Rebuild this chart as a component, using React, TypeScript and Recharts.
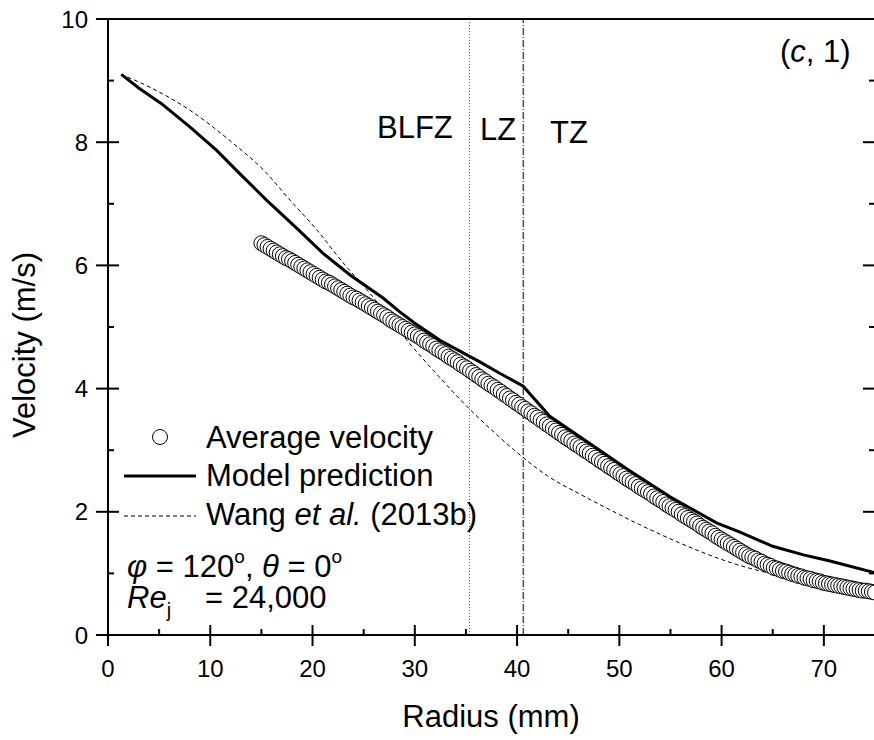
import React from "react";
import {
  ComposedChart,
  Line,
  ReferenceLine,
  Scatter,
  XAxis,
  YAxis,
} from "recharts";

const FONT = "'Liberation Sans', Arial, Helvetica, sans-serif";

// measured average velocity (open circles), one row per ~5 mm
const avgRadius = [
  15, 15.3, 15.6, 15.9, 16.2, 16.5, 16.8, 17.1, 17.4, 17.7, 18, 18.3, 18.6, 18.9, 19.2, 19.5, 19.8,
  20.1, 20.4, 20.7, 21, 21.3, 21.6, 21.9, 22.2, 22.5, 22.8, 23.1, 23.4, 23.7, 24, 24.3, 24.6, 24.9,
  25.2, 25.5, 25.8, 26.1, 26.4, 26.7, 27, 27.3, 27.6, 27.9, 28.2, 28.5, 28.8, 29.1, 29.4, 29.7,
  30, 30.3, 30.6, 30.9, 31.2, 31.5, 31.8, 32.1, 32.4, 32.7, 33, 33.3, 33.6, 33.9, 34.2, 34.5, 34.8,
  35.1, 35.4, 35.7, 36, 36.3, 36.6, 36.9, 37.2, 37.5, 37.8, 38.1, 38.4, 38.7, 39, 39.3, 39.6, 39.9,
  40.2, 40.5, 40.8, 41.1, 41.4, 41.7, 42, 42.3, 42.6, 42.9, 43.2, 43.5, 43.8, 44.1, 44.4, 44.7,
  45, 45.3, 45.6, 45.9, 46.2, 46.5, 46.8, 47.1, 47.4, 47.7, 48, 48.3, 48.6, 48.9, 49.2, 49.5, 49.8,
  50.1, 50.4, 50.7, 51, 51.3, 51.6, 51.9, 52.2, 52.5, 52.8, 53.1, 53.4, 53.7, 54, 54.3, 54.6, 54.9,
  55.2, 55.5, 55.8, 56.1, 56.4, 56.7, 57, 57.3, 57.6, 57.9, 58.2, 58.5, 58.8, 59.1, 59.4, 59.7,
  60, 60.3, 60.6, 60.9, 61.2, 61.5, 61.8, 62.1, 62.4,
  62.7, 63, 63.3, 63.6, 63.9, 64.2, 64.5, 64.8,
  65.1, 65.4, 65.7, 66, 66.3, 66.6, 66.9, 67.2,
  67.5, 67.8, 68.1, 68.4, 68.7, 69, 69.3, 69.6, 69.9,
  70.2, 70.5, 70.8, 71.1, 71.4, 71.7, 72, 72.3,
  72.6, 72.9, 73.2, 73.5, 73.8, 74.1, 74.4, 74.7, 75,
];
const avgVelocity = [
  6.36, 6.33, 6.3, 6.27, 6.24, 6.21, 6.18, 6.15, 6.12, 6.1, 6.07, 6.04, 6.01, 5.98, 5.95, 5.92, 5.89,
  5.86, 5.83, 5.8, 5.77, 5.74, 5.72, 5.69, 5.66, 5.63, 5.6, 5.57, 5.54, 5.51, 5.48, 5.46, 5.43, 5.4,
  5.37, 5.34, 5.31, 5.28, 5.25, 5.22, 5.19, 5.16, 5.12, 5.09, 5.06, 5.03, 5.0, 4.97, 4.94, 4.91,
  4.88, 4.85, 4.82, 4.78, 4.75, 4.72, 4.69, 4.65, 4.62, 4.59, 4.56, 4.52, 4.49, 4.46, 4.43, 4.39, 4.36,
  4.33, 4.29, 4.26, 4.22, 4.19, 4.15, 4.12, 4.08, 4.05, 4.02, 3.98, 3.95, 3.91, 3.88, 3.84, 3.81, 3.77,
  3.74, 3.7, 3.67, 3.63, 3.6, 3.56, 3.53, 3.49, 3.46, 3.42, 3.39, 3.35, 3.32, 3.28, 3.25, 3.21,
  3.18, 3.15, 3.11, 3.08, 3.05, 3.01, 2.98, 2.95, 2.91, 2.88, 2.84, 2.81, 2.78, 2.74, 2.71, 2.68, 2.64,
  2.61, 2.58, 2.54, 2.51, 2.48, 2.45, 2.41, 2.38, 2.35, 2.32, 2.29, 2.25, 2.22, 2.19, 2.16, 2.12, 2.09,
  2.06, 2.03, 2.0, 1.96, 1.93, 1.9, 1.87, 1.84, 1.81, 1.77, 1.74, 1.71, 1.68, 1.65, 1.61, 1.58,
  1.55, 1.52, 1.49, 1.46, 1.43, 1.4, 1.37, 1.34, 1.31,
  1.28, 1.26, 1.24, 1.21, 1.19, 1.16, 1.14, 1.12,
  1.09, 1.08, 1.06, 1.04, 1.03, 1.01, 0.99, 0.98,
  0.96, 0.95, 0.93, 0.92, 0.91, 0.89, 0.88, 0.87, 0.85,
  0.84, 0.83, 0.82, 0.81, 0.8, 0.79, 0.78, 0.77,
  0.76, 0.75, 0.74, 0.73, 0.72, 0.72, 0.71, 0.7, 0.69,
];

// model prediction (solid)
const modelRadius = [
  1.3, 3, 5.2, 8, 10.6, 13, 15.5, 18.6, 21, 23.7, 26.9, 28.5, 30, 32.5,
  34.5, 36.4, 38.3, 40.6, 43.2, 47, 50.9, 55, 59.5, 61.8, 65, 68, 70.6, 75,
];
const modelVelocity = [
  9.1, 8.88, 8.63, 8.25, 7.87, 7.47, 7.06, 6.58, 6.2, 5.84, 5.47, 5.25, 5.06,
  4.78, 4.6, 4.43, 4.25, 4.04, 3.55, 3.12, 2.68, 2.24, 1.82, 1.67, 1.44, 1.3,
  1.2, 1.01,
];

// Wang et al. (2013b) (dashed)
const wangRadius = [
  1.3, 4, 8, 12.25, 15.2, 17.8, 20.4, 23, 25.6, 29.2, 32.5, 35.4, 37.3, 40.6,
  43, 46, 49, 52, 55, 58, 61, 64, 66.3, 70, 75,
];
const wangVelocity = [
  9.1, 8.9, 8.52, 7.98, 7.55, 7.06, 6.58, 6.04, 5.55, 4.79, 4.17, 3.66, 3.36,
  2.88, 2.58, 2.3, 2.04, 1.79, 1.56, 1.35, 1.17, 1.03, 0.95, 0.84, 0.74,
];

const xTicks = [0, 5, 10, 15, 20, 25, 30, 35, 40, 45, 50, 55, 60, 65, 70];
const yTicks = [0, 1, 2, 3, 4, 5, 6, 7, 8, 9, 10];

// zone boundaries (mm)
const blfzEdge = 35.35;
const lzEdge = 40.6;

const toPoints = (xs: number[], ys: number[]) =>
  xs.map((r, i) => ({ r, v: ys[i] }));

const avgData = toPoints(avgRadius, avgVelocity);
const modelData = toPoints(modelRadius, modelVelocity);
const wangData = toPoints(wangRadius, wangVelocity);

const axisLine = { stroke: "#000", strokeWidth: 2 };

function BottomTick({ x, y, payload }: any) {
  const major = payload.value % 10 === 0;
  return (
    <g>
      <line
        x1={x}
        x2={x}
        y1={major ? y - 10 : y - 6}
        y2={major ? y + 11 : y}
        stroke="#000"
        strokeWidth={2}
      />
      {major && (
        <text
          x={x}
          y={y + 42}
          textAnchor="middle"
          fontSize={24}
          fontFamily={FONT}
          fill="#000"
        >
          {payload.value}
        </text>
      )}
    </g>
  );
}

function TopTick({ x, y, payload }: any) {
  const major = payload.value % 10 === 0;
  return (
    <line
      x1={x}
      x2={x}
      y1={y}
      y2={major ? y + 11 : y + 6}
      stroke="#000"
      strokeWidth={2}
    />
  );
}

function LeftTick({ x, y, payload }: any) {
  const major = payload.value % 2 === 0;
  return (
    <g>
      <line
        x1={major ? x - 12 : x}
        x2={major ? x + 11 : x + 6}
        y1={y}
        y2={y}
        stroke="#000"
        strokeWidth={2}
      />
      {major && (
        <text
          x={x - 20}
          y={y + 8.5}
          textAnchor="end"
          fontSize={24}
          fontFamily={FONT}
          fill="#000"
        >
          {payload.value}
        </text>
      )}
    </g>
  );
}

function RightTick({ x, y, payload }: any) {
  const major = payload.value % 2 === 0;
  return (
    <line
      x1={major ? x - 12 : x - 6}
      x2={x}
      y1={y}
      y2={y}
      stroke="#000"
      strokeWidth={2}
    />
  );
}

function OpenCircle({ cx, cy }: any) {
  return (
    <circle
      cx={cx}
      cy={cy}
      r={7.5}
      fill="#fff"
      stroke="#000"
      strokeWidth={1}
    />
  );
}

function Annotations() {
  const t = { fontFamily: FONT, fill: "#000" };
  return (
    <svg
      width={874}
      height={740}
      style={{ position: "absolute", left: 0, top: 0, pointerEvents: "none" }}
    >
      <text {...t} fontSize={31} x={377} y={138}>BLFZ</text>
      <text {...t} fontSize={31} x={480} y={140}>LZ</text>
      <text {...t} fontSize={31} x={550} y={143}>TZ</text>
      <text {...t} fontSize={31} x={780} y={62}>
        (<tspan fontStyle="italic">c</tspan>, 1)
      </text>

      {/* legend */}
      <circle cx={160} cy={437} r={7.5} fill="#fff" stroke="#000" strokeWidth={1} />
      <text {...t} fontSize={31} x={206} y={448}>Average velocity</text>
      <line x1={124} x2={196} y1={476} y2={476} stroke="#000" strokeWidth={3} />
      <text {...t} fontSize={31} x={206} y={486}>Model prediction</text>
      <line
        x1={124}
        x2={196}
        y1={516}
        y2={516}
        stroke="#000"
        strokeWidth={1}
        strokeDasharray="4 3"
      />
      <text {...t} fontSize={31} x={206} y={525}>
        Wang <tspan fontStyle="italic">et al.</tspan> (2013b)
      </text>

      <text {...t} fontSize={31} x={127} y={577}>
        <tspan fontStyle="italic">φ</tspan> = 120
        <tspan fontSize={19} dy={-14}>o</tspan>
        <tspan dy={14}>, </tspan>
        <tspan fontStyle="italic">θ</tspan> = 0
        <tspan fontSize={19} dy={-14}>o</tspan>
      </text>
      <text {...t} fontSize={31} x={127} y={608}>
        <tspan fontStyle="italic">Re</tspan>
        <tspan fontSize={20} dy={9}>j</tspan>
        <tspan x={205} dy={-9}>= 24,000</tspan>
      </text>

      {/* axis titles */}
      <text {...t} fontSize={31} x={491} y={727} textAnchor="middle">
        Radius (mm)
      </text>
      <text
        {...t}
        fontSize={31}
        textAnchor="middle"
        transform="translate(35,345) rotate(-90)"
      >
        Velocity (m/s)
      </text>
    </svg>
  );
}

export default function App() {
  return (
    <div
      style={{
        position: "absolute",
        left: 0,
        top: 0,
        width: 874,
        height: 740,
        background: "#fff",
        overflow: "hidden",
      }}
    >
      <ComposedChart
        width={874}
        height={740}
        margin={{ top: 18, right: -2, bottom: 104, left: 107 }}
      >
        <XAxis
          dataKey="r"
          type="number"
          domain={[0, 75]}
          allowDataOverflow
          ticks={xTicks}
          interval={0}
          height={1}
          tickSize={0}
          tickMargin={0}
          tickLine={false}
          axisLine={axisLine}
          tick={BottomTick}
        />
        <XAxis
          xAxisId="top"
          orientation="top"
          type="number"
          domain={[0, 75]}
          allowDataOverflow
          ticks={xTicks}
          interval={0}
          height={1}
          tickSize={0}
          tickMargin={0}
          tickLine={false}
          axisLine={axisLine}
          tick={TopTick}
        />
        <YAxis
          dataKey="v"
          type="number"
          domain={[0, 10]}
          allowDataOverflow
          ticks={yTicks}
          interval={0}
          width={1}
          tickSize={0}
          tickMargin={0}
          tickLine={false}
          axisLine={axisLine}
          tick={LeftTick}
        />
        <YAxis
          yAxisId="right"
          orientation="right"
          type="number"
          domain={[0, 10]}
          allowDataOverflow
          ticks={yTicks}
          interval={0}
          width={1}
          tickSize={0}
          tickMargin={0}
          tickLine={false}
          axisLine={axisLine}
          tick={RightTick}
        />

        <ReferenceLine
          x={blfzEdge}
          stroke="#666"
          strokeWidth={1}
          strokeDasharray="1 2"
        />
        <ReferenceLine
          x={lzEdge}
          stroke="#000"
          strokeWidth={1}
          strokeDasharray="7 2 1 2"
        />

        <Line
          data={wangData}
          dataKey="v"
          type="monotone"
          stroke="#000"
          strokeWidth={1}
          strokeDasharray="4 3"
          dot={false}
          activeDot={false}
          isAnimationActive={false}
          zIndex={400}
        />
        <Scatter
          data={avgData}
          dataKey="v"
          shape={OpenCircle}
          isAnimationActive={false}
          zIndex={450}
        />
        <Line
          data={modelData}
          dataKey="v"
          type="linear"
          stroke="#000"
          strokeWidth={3}
          dot={false}
          activeDot={false}
          isAnimationActive={false}
          zIndex={500}
        />
      </ComposedChart>
      <Annotations />
    </div>
  );
}
